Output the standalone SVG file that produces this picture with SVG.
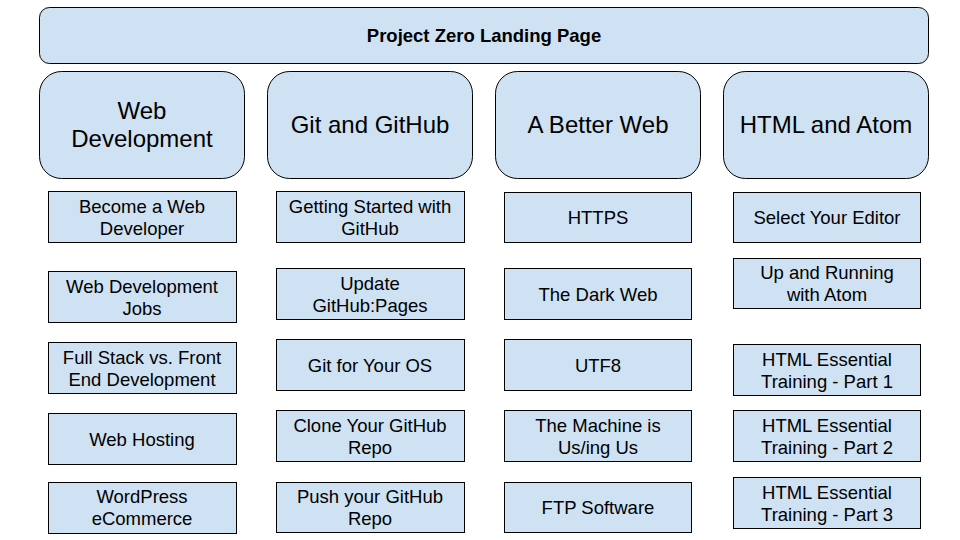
<svg xmlns="http://www.w3.org/2000/svg" width="960" height="540" viewBox="0 0 960 540">
<style>
rect{fill:#cfe2f3;stroke:#000;stroke-width:1}
text{font-family:"Liberation Sans",Arial,sans-serif;fill:#000;text-anchor:middle}
.t{font-size:18.5px;font-weight:bold}
.c{font-size:24px}
.s{font-size:18.5px}
</style>
<rect x="0" y="0" width="960" height="540" style="fill:#fff;stroke:none"/>
<g id="title"><rect x="39.5" y="7.5" width="889" height="56" rx="10"/><text class="t" x="484" y="41.5">Project Zero Landing Page</text></g>
<g id="cat-webdev"><rect x="39.5" y="71.5" width="205" height="107" rx="22"/><text class="c" x="142" y="119">Web</text><text class="c" x="142" y="147">Development</text></g>
<g id="cat-git"><rect x="267.5" y="71.5" width="205" height="107" rx="22"/><text class="c" x="370" y="133">Git and GitHub</text></g>
<g id="cat-better"><rect x="495.5" y="71.5" width="205" height="107" rx="22"/><text class="c" x="598" y="133">A Better Web</text></g>
<g id="cat-html"><rect x="723.5" y="71.5" width="205" height="107" rx="22"/><text class="c" x="826" y="133">HTML and Atom</text></g>
<g id="connectors"></g>
<g id="n1-1"><rect x="48.5" y="191.5" width="188" height="51"/><text class="s" x="142" y="213">Become a Web</text><text class="s" x="142" y="235">Developer</text></g>
<g id="n1-2"><rect x="48.5" y="271.5" width="188" height="51"/><text class="s" x="142" y="293">Web Development</text><text class="s" x="142" y="315">Jobs</text></g>
<g id="n1-3"><rect x="48.5" y="342.5" width="188" height="51"/><text class="s" x="142" y="364">Full Stack vs. Front</text><text class="s" x="142" y="386">End Development</text></g>
<g id="n1-4"><rect x="48.5" y="413.5" width="188" height="51"/><text class="s" x="142" y="446">Web Hosting</text></g>
<g id="n1-5"><rect x="48.5" y="482.5" width="188" height="51"/><text class="s" x="142" y="503">WordPress</text><text class="s" x="142" y="525">eCommerce</text></g>
<g id="n2-1"><rect x="276.5" y="191.5" width="188" height="51"/><text class="s" x="370" y="213">Getting Started with</text><text class="s" x="370" y="235">GitHub</text></g>
<g id="n2-2"><rect x="276.5" y="268.5" width="188" height="51"/><text class="s" x="370" y="290">Update</text><text class="s" x="370" y="312">GitHub:Pages</text></g>
<g id="n2-3"><rect x="276.5" y="339.5" width="188" height="51"/><text class="s" x="370" y="372">Git for Your OS</text></g>
<g id="n2-4"><rect x="276.5" y="410.5" width="188" height="51"/><text class="s" x="370" y="432">Clone Your GitHub</text><text class="s" x="370" y="454">Repo</text></g>
<g id="n2-5"><rect x="276.5" y="482.5" width="188" height="50"/><text class="s" x="370" y="503">Push your GitHub</text><text class="s" x="370" y="525">Repo</text></g>
<g id="n3-1"><rect x="504.5" y="192.5" width="187" height="50"/><text class="s" x="598" y="224">HTTPS</text></g>
<g id="n3-2"><rect x="504.5" y="268.5" width="187" height="51"/><text class="s" x="598" y="301">The Dark Web</text></g>
<g id="n3-3"><rect x="504.5" y="339.5" width="187" height="51"/><text class="s" x="598" y="372">UTF8</text></g>
<g id="n3-4"><rect x="504.5" y="410.5" width="187" height="51"/><text class="s" x="598" y="432">The Machine is</text><text class="s" x="598" y="454">Us/ing Us</text></g>
<g id="n3-5"><rect x="504.5" y="482.5" width="187" height="50"/><text class="s" x="598" y="514">FTP Software</text></g>
<g id="n4-1"><rect x="733.5" y="192.5" width="187" height="50"/><text class="s" x="827" y="224">Select Your Editor</text></g>
<g id="n4-2"><rect x="733.5" y="258.5" width="187" height="50"/><text class="s" x="827" y="279">Up and Running</text><text class="s" x="827" y="301">with Atom</text></g>
<g id="n4-3"><rect x="733.5" y="344.5" width="187" height="51"/><text class="s" x="827" y="366">HTML Essential</text><text class="s" x="827" y="388">Training - Part 1</text></g>
<g id="n4-4"><rect x="733.5" y="410.5" width="187" height="51"/><text class="s" x="827" y="432">HTML Essential</text><text class="s" x="827" y="454">Training - Part 2</text></g>
<g id="n4-5"><rect x="733.5" y="477.5" width="187" height="51"/><text class="s" x="827" y="499">HTML Essential</text><text class="s" x="827" y="521">Training - Part 3</text></g>
</svg>
